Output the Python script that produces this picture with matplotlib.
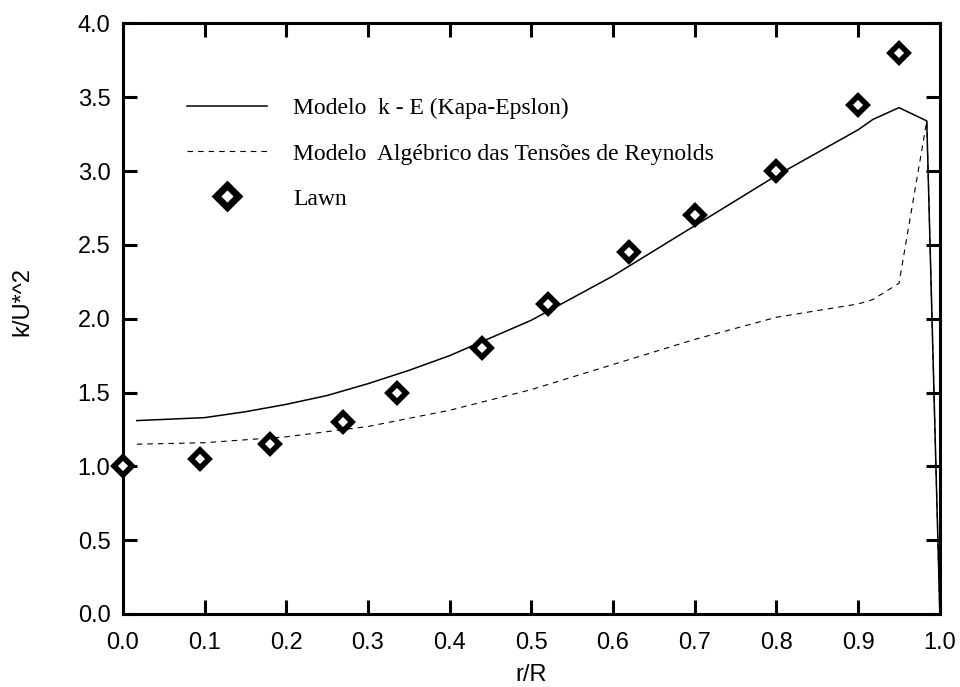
import matplotlib
matplotlib.use("Agg")
import matplotlib.pyplot as plt
from matplotlib.lines import Line2D

# k-epsilon model profile
ke_r = [0.017, 0.1, 0.15, 0.2, 0.25, 0.3, 0.35, 0.4, 0.45, 0.5, 0.6, 0.7, 0.8, 0.9, 0.918, 0.95, 0.984, 1.0]
ke_k = [1.31, 1.33, 1.37, 1.42, 1.48, 1.56, 1.65, 1.75, 1.87, 1.99, 2.29, 2.63, 2.97, 3.28, 3.35, 3.43, 3.34, 0.0]

# algebraic Reynolds stress model profile
ars_r = [0.017, 0.1, 0.2, 0.3, 0.4, 0.5, 0.6, 0.7, 0.8, 0.9, 0.918, 0.95, 0.984, 1.0]
ars_k = [1.15, 1.16, 1.20, 1.27, 1.38, 1.52, 1.69, 1.86, 2.01, 2.10, 2.13, 2.24, 3.34, 0.0]

# Lawn experimental data
lawn_r = [0.0, 0.095, 0.18, 0.27, 0.335, 0.44, 0.52, 0.62, 0.70, 0.80, 0.90, 0.95]
lawn_k = [1.0, 1.05, 1.15, 1.30, 1.50, 1.80, 2.10, 2.45, 2.70, 3.00, 3.45, 3.80]

labels = ["Modelo  k - E (Kapa-Epslon)",
          "Modelo  Algébrico das Tensões de Reynolds",
          "Lawn"]

fig = plt.figure(figsize=(9.6, 6.87), dpi=100)
ax = fig.add_axes([0.128, 0.1063, 0.851, 0.8595])

ax.plot(ke_r, ke_k, color="black", lw=1.1)
ax.plot(ars_r, ars_k, color="black", lw=0.8, dashes=(5, 4.5))
ax.plot(lawn_r, lawn_k, ls="none", marker="D", ms=9, mew=4,
        mec="black", mfc="white", clip_on=False, zorder=5)

ax.set_xlim(0, 1)
ax.set_ylim(0, 4)
ax.set_xticks([i / 10 for i in range(11)])
ax.set_yticks([i / 2 for i in range(9)])
ax.xaxis.set_major_formatter(matplotlib.ticker.FormatStrFormatter("%.1f"))
ax.yaxis.set_major_formatter(matplotlib.ticker.FormatStrFormatter("%.1f"))

for s in ax.spines.values():
    s.set_linewidth(2.2)
ax.tick_params(direction="in", length=10, width=2.2, top=True, right=True,
               labelsize=17, labelfontfamily="Liberation Sans")
ax.tick_params(axis="x", pad=13)
ax.tick_params(axis="y", pad=9)

ax.set_xlabel("r/R", fontsize=17, family="Liberation Sans", labelpad=7)
ax.set_ylabel("k/U*^2", fontsize=17, family="Liberation Sans", labelpad=32, y=0.53)

handles = [
    Line2D([], [], color="black", lw=1.1),
    Line2D([], [], color="black", lw=0.8, dashes=(5, 4.5)),
    Line2D([], [], ls="none", marker="D", ms=11, mew=5, mec="black", mfc="white"),
]
ax.legend(handles, labels, loc="upper left", bbox_to_anchor=(0.052, 0.91),
          frameon=False, handlelength=3.4, handletextpad=1.1,
          labelspacing=1.0, prop={"family": "Liberation Serif", "size": 17})

fig.savefig("out.png", dpi=100)
